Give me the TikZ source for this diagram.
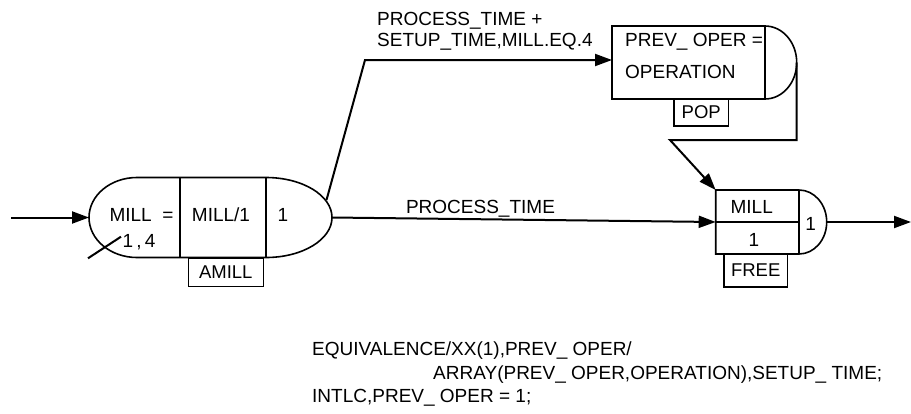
\documentclass[tikz,border=0pt]{standalone}
\usepackage{fontspec}
\setmainfont{Liberation Sans}
\usetikzlibrary{arrows.meta}
\begin{document}
\begin{tikzpicture}[x=1pt,y=-1pt,
  txt/.style={inner sep=0pt,font=\fontsize{19}{22}\selectfont},
  outline/.style={line width=1.6pt},
  conn/.style={line width=2pt},
  arr/.style={conn,-{Triangle[length=17pt,width=12pt]}},
  tagbox/.style={draw,line width=1.5pt,inner sep=0pt,font=\fontsize{18.5}{22}\selectfont}
]
\useasboundingbox (0,0) rectangle (911,413);

% ---------- AMILL (await) block ----------
\draw[outline] (180,177.5) -- (137,177.5)
  arc[start angle=90,end angle=270,x radius=48pt,y radius=40pt]
  -- (266,257.5)
  arc[start angle=-90,end angle=90,x radius=66pt,y radius=40pt] -- cycle;
\draw[outline] (180,177.5) -- (180,257.5);
\draw[outline] (266,177.5) -- (266,257.5);
\node[txt,anchor=base] (mill) at (141.5,221.5) {MILL\ \ =};
\node[txt,anchor=base] (onefour) at (139,247) {1\,,\,4};
\node[txt,anchor=base] (millone) at (221,221.5) {MILL/1};
\node[txt,anchor=base] (aone) at (283,221.5) {1};
\node[tagbox,minimum width=75pt,minimum height=28.4pt] (amill) at (225.8,272.5) {AMILL};
\coordinate (aw) at (89,217.5);
\coordinate (ae) at (332,217.5);
\coordinate (ane) at (326.5,200);
\coordinate (crossa) at (88,258.3);
\coordinate (crossb) at (121,236.7);
\draw[conn] (crossa) -- (crossb);

% ---------- POP (assign) block ----------
\draw[outline] (765,26) -- (612,26) -- (612,99) -- (765,99)
  arc[start angle=-90,end angle=90,x radius=31.7pt,y radius=36.5pt];
\draw[outline] (765,26) -- (765,99);
\node[txt,anchor=base west] (prev) at (625,46.7) {PREV\_ OPER =};
\node[txt,anchor=base west] (oper) at (625,78) {OPERATION};
\node[tagbox,minimum width=54.3pt,minimum height=27pt] (pop) at (701.2,112.5) {POP};
\coordinate (popw) at (612,60);
\coordinate (pope) at (796.7,62.5);

% ---------- FREE block ----------
\draw[outline] (799,190) -- (715.7,190) -- (715.7,254) -- (799,254)
  arc[start angle=-90,end angle=90,x radius=27.7pt,y radius=32pt];
\draw[outline] (799,190) -- (799,254);
\draw[outline] (715.7,222) -- (799,222);
\node[txt,anchor=base] (fmill) at (751.7,213.5) {MILL};
\node[txt,anchor=base] (fone) at (754,246) {1};
\node[txt,anchor=base] (ftwo) at (810.7,230) {1};
\node[tagbox,minimum width=63.3pt,minimum height=32.7pt] (free) at (755.7,270.4) {FREE};
\coordinate (fnw) at (715.7,190);
\coordinate (fw) at (715.7,222);
\coordinate (fe) at (826.7,222);

% ---------- connectors ----------
\coordinate (in) at (11,217.5);
\coordinate (out) at (911,222);
\coordinate (bend1) at (365,60);
\coordinate (down1) at (796.7,140);
\coordinate (down2) at (670,140);
\draw[arr] (in) -- (aw);
\draw[arr] (ae) -- (fw);
\draw[arr] (ane) -- (bend1) -- (popw);
\draw[arr] (pope) -- (down1) -- (down2) -- (fnw);
\draw[arr] (fe) -- (out);

% ---------- labels ----------
\node[txt,anchor=base west] (l1) at (377,25) {PROCESS\_TIME +};
\node[txt,anchor=base west] (l2) at (377,46.7) {SETUP\_TIME,MILL.EQ.4};
\node[txt,anchor=base] (l3) at (480.5,213) {PROCESS\_TIME};

% ---------- bottom statements ----------
\node[txt,anchor=base west] (s1) at (312,355) {EQUIVALENCE/XX(1),PREV\_ OPER/};
\node[txt,anchor=base west] (s2) at (433,379) {ARRAY(PREV\_ OPER,OPERATION),SETUP\_ TIME;};
\node[txt,anchor=base west] (s3) at (312,402) {INTLC,PREV\_ OPER = 1;};
\end{tikzpicture}
\end{document}
